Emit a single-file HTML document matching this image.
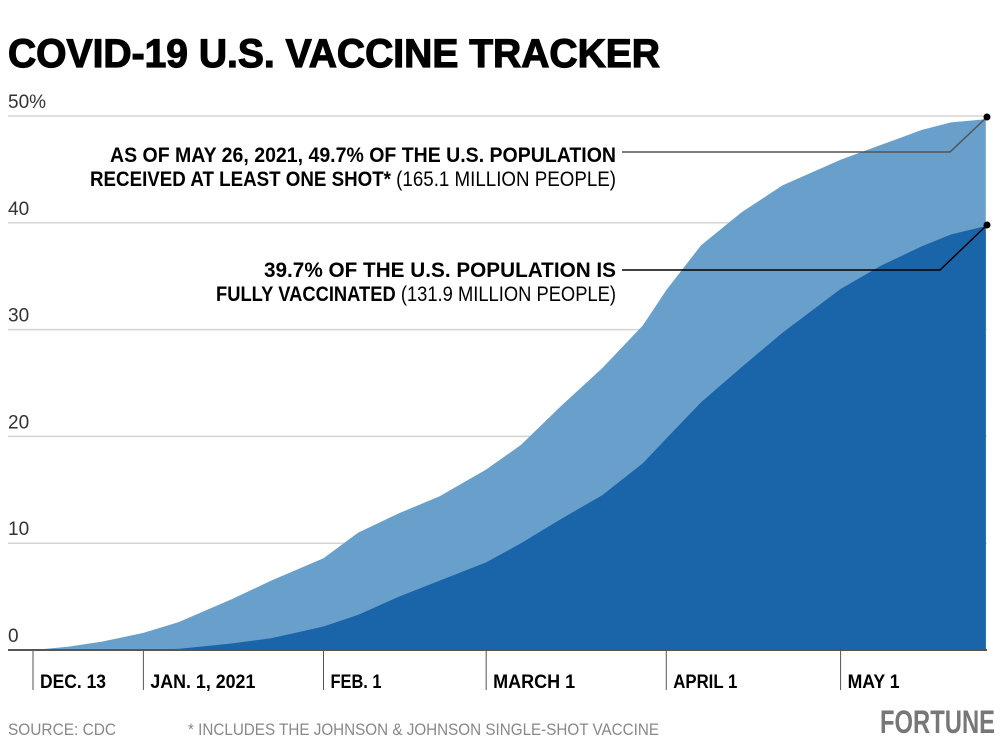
<!DOCTYPE html>
<html><head><meta charset="utf-8"><style>
body{margin:0;background:#fff}
svg{display:block}
text{font-family:"Liberation Sans Narrow","Liberation Sans",sans-serif}
</style></head><body>
<svg id="chart" width="1001" height="754" viewBox="0 0 1001 754">
<text x="8" y="67" font-family="Liberation Sans" font-weight="900" font-size="40" textLength="652" lengthAdjust="spacingAndGlyphs" fill="#000" style="font-family:'Liberation Sans',sans-serif;stroke:#000;stroke-width:1.2">COVID-19 U.S. VACCINE TRACKER</text>
<g id="grid"></g>
<g id="areas"></g>
<g id="xaxis"></g>
<g id="yaxis"></g>
<g>
<polyline points="622,152 950,152 987,117" fill="none" stroke="#555" stroke-width="1.5"/>
<circle cx="987" cy="117" r="3.5" fill="#000"/>
<text x="616" y="162" text-anchor="end" font-size="21" font-weight="bold" textLength="506" lengthAdjust="spacingAndGlyphs">AS OF MAY 26, 2021, 49.7% OF THE U.S. POPULATION</text>
<text x="616" y="186" text-anchor="end" font-size="21" textLength="526" lengthAdjust="spacingAndGlyphs"><tspan font-weight="bold">RECEIVED AT LEAST ONE SHOT*</tspan> (165.1 MILLION PEOPLE)</text>
</g>
<g>
<polyline points="622,270 940,270 987,225" fill="none" stroke="#000" stroke-width="1.5"/>
<circle cx="987" cy="225" r="3.5" fill="#000"/>
<text x="616" y="277" text-anchor="end" font-size="21" font-weight="bold" textLength="352" lengthAdjust="spacingAndGlyphs">39.7% OF THE U.S. POPULATION IS</text>
<text x="616" y="301" text-anchor="end" font-size="21" textLength="400" lengthAdjust="spacingAndGlyphs"><tspan font-weight="bold">FULLY VACCINATED</tspan> (131.9 MILLION PEOPLE)</text>
</g>
<text x="8" y="735" font-size="17" fill="#888" textLength="108" lengthAdjust="spacingAndGlyphs">SOURCE: CDC</text>
<text x="188" y="735" font-size="17" fill="#888" textLength="471" lengthAdjust="spacingAndGlyphs">* INCLUDES THE JOHNSON &amp; JOHNSON SINGLE-SHOT VACCINE</text>
<text x="995" y="733" text-anchor="end" font-size="32" font-weight="bold" fill="#777" textLength="115" lengthAdjust="spacingAndGlyphs">FORTUNE</text>
</svg>
<script>
const days=[0,6,12,19,25,34,41,50,56,63,70,78,84,91,98,105,109,115,122,129,139,146,153,158,164];
const firstDose=[0,0.3,0.8,1.6,2.6,4.7,6.5,8.6,11,12.8,14.4,16.9,19.2,22.9,26.4,30.4,33.7,37.9,41,43.5,45.9,47.3,48.7,49.4,49.7];
const fullyVax=[0,0,0,0,0.1,0.6,1.1,2.2,3.3,5,6.5,8.2,10,12.3,14.5,17.5,19.8,23.2,26.5,29.7,33.8,36,37.8,38.9,39.7];
const yTicks=[0,10,20,30,40,50];
const yTickLabels=["0","10","20","30","40","50%"];
const xTickDays=[0,19,50,78,109,139];
const xTickLabels=["DEC. 13","JAN. 1, 2021","FEB. 1","MARCH 1","APRIL 1","MAY 1"];
const xLabelWidths=[66,105,51,82,64,52];
const NS="http://www.w3.org/2000/svg";
const x=d=>33+d*5.81;
const y=v=>650-v*10.68;
function mk(t,a,p){const e=document.createElementNS(NS,t);for(const k in a)e.setAttribute(k,a[k]);p.appendChild(e);return e;}
const grid=document.getElementById('grid'),yax=document.getElementById('yaxis'),xax=document.getElementById('xaxis'),areas=document.getElementById('areas');
yTicks.forEach((v,i)=>{
 if(v>0){const l=mk('line',{x1:8,x2:987,y1:y(v),y2:y(v),stroke:'#d4d4d4','stroke-width':1.5},grid);
 
 }
 const t=mk('text',{x:8,y:y(v)-8,'font-size':19,fill:'#333'},yax);
 
 
 t.textContent=yTickLabels[i];
});
function path(vals){let d='M'+x(days[0])+','+y(0);days.forEach((dd,i)=>{d+=' L'+x(dd).toFixed(1)+','+y(vals[i]).toFixed(1);});d+=' L'+x(days[days.length-1])+','+y(0)+' Z';return d;}
const a1=mk('path',{d:path(firstDose),fill:'#689fcb'},areas);


const a2=mk('path',{d:path(fullyVax),fill:'#1a64a9'},areas);


const base=mk('line',{x1:8,x2:987,y1:650,y2:650,stroke:'#555','stroke-width':2},xax);


xTickDays.forEach((d,i)=>{
 const l=mk('line',{x1:x(d),x2:x(d),y1:650,y2:690,stroke:'#555','stroke-width':1},xax);
 
 
 const t=mk('text',{x:x(d)+7,y:688,'font-size':19,'font-weight':'bold',fill:'#000',textLength:xLabelWidths[i],lengthAdjust:'spacingAndGlyphs'},xax);
 
 
 t.textContent=xTickLabels[i];
});
</script>
</body></html>
